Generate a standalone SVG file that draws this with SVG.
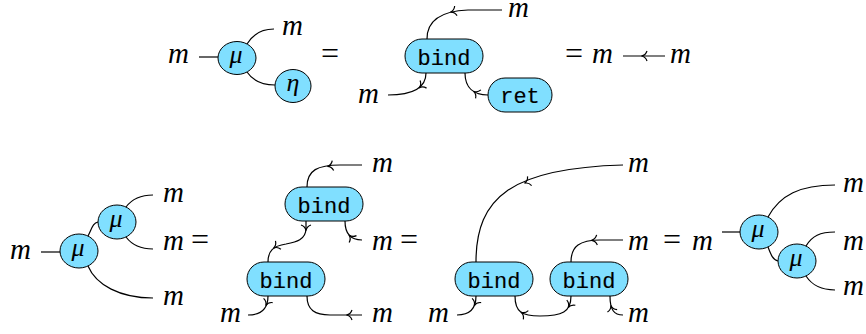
<svg xmlns="http://www.w3.org/2000/svg" xmlns:xlink="http://www.w3.org/1999/xlink" width="866" height="334" viewBox="0 0 866 334">
<style>
.w{fill:none;stroke:#000;stroke-width:1.2}
.n{fill:#80dfff;stroke:#000;stroke-width:1}
.m{font-family:"Liberation Serif",serif;font-style:italic;font-size:29px;fill:#000}
.g{font-family:"Liberation Serif",serif;font-style:italic;font-size:26px;fill:#000;text-anchor:middle}
.eq{font-family:"Liberation Serif",serif;font-size:32px;fill:#000}
.t{font-family:"Liberation Mono",monospace;font-size:22px;fill:#000;text-anchor:middle;stroke:#000;stroke-width:0.15}
</style>
<defs>
<path id="ah" d="M-5,-5 C-4,-2 -1.8,-0.4 0.6,0 C-1.8,0.4 -4,2 -5,5" fill="none" stroke="#000" stroke-width="1.2"/>
</defs>
<g id="connectors">
<!-- top left -->
<path class="w" d="M199,57 H218"/>
<path class="w" d="M247,44 C253,34 262,29 274,29"/>
<path class="w" d="M247,72 C253,81 262,85 275,85"/>
<!-- top middle -->
<path class="w" d="M427,39 C427,20 442,11 468,10 H502"/>
<use xlink:href="#ah" transform="translate(451,12) rotate(166)"/>
<path class="w" d="M426,73 C426,88 412,95 388,95"/>
<use xlink:href="#ah" transform="translate(419.5,87.5) rotate(140)"/>
<path class="w" d="M465,73 C465,88 474,95 488,95"/>
<use xlink:href="#ah" transform="translate(474,91.5) rotate(212)"/>
<!-- top right -->
<path class="w" d="M623,56 H665"/>
<use xlink:href="#ah" transform="translate(642,56) rotate(180)"/>
<!-- bottom left -->
<path class="w" d="M41,252 H60"/>
<path class="w" d="M88,236 C92,228 93,223 98,222"/>
<path class="w" d="M126,207 C132,199 140,195 153,195"/>
<path class="w" d="M126,237 C132,245 140,249 153,249"/>
<path class="w" d="M88,266 C96,285 120,298 153,298"/>
<!-- bottom second -->
<path class="w" d="M307,187 C307,170 318,165 340,165 H362"/>
<use xlink:href="#ah" transform="translate(328,166.3) rotate(172)"/>
<path class="w" d="M345,221 C345,234 351,240 362,240"/>
<use xlink:href="#ah" transform="translate(349.4,235.4) rotate(227)"/>
<path class="w" d="M306,221 L306,228 C306,240 296,242 286,244 C273,246 268,251 268,262"/>
<use xlink:href="#ah" transform="translate(306,230) rotate(90)"/>
<use xlink:href="#ah" transform="translate(274,247.8) rotate(147)"/>
<path class="w" d="M268,296 C268,309 261,315 248,315"/>
<use xlink:href="#ah" transform="translate(266,305) rotate(115)"/>
<path class="w" d="M307,296 C307,310 315,315 330,315 H362"/>
<use xlink:href="#ah" transform="translate(347,315) rotate(180)"/>
<!-- bottom third -->
<path class="w" d="M476,262 C476,197 512,168 623,165"/>
<use xlink:href="#ah" transform="translate(525,183) rotate(156)"/>
<path class="w" d="M571,262 C571,246 580,240 600,240 H623"/>
<use xlink:href="#ah" transform="translate(592,240.3) rotate(176)"/>
<path class="w" d="M476,296 C476,309 469,315 457,315"/>
<use xlink:href="#ah" transform="translate(474.5,305) rotate(115)"/>
<path class="w" d="M515,296 C515,312 522,316 540,316 C562,316 571,312 571,296"/>
<use xlink:href="#ah" transform="translate(521.5,312.5) rotate(210)"/>
<use xlink:href="#ah" transform="translate(568.5,307) rotate(121)"/>
<path class="w" d="M610,296 C610,310 614,315 623,315"/>
<use xlink:href="#ah" transform="translate(611,306) rotate(255)"/>
<!-- bottom right -->
<path class="w" d="M722,232 H740"/>
<path class="w" d="M768,217 C780,195 800,185 835,185"/>
<path class="w" d="M768,247 C771,255 773,260 778,261"/>
<path class="w" d="M806,246 C812,236 820,232 835,232"/>
<path class="w" d="M806,276 C812,285 820,290 835,290"/>
</g>
<!-- top left nodes -->
<g id="mu1"><ellipse class="n" cx="237" cy="58" rx="19" ry="16.5"/><text class="g" x="236" y="63">μ</text></g>
<g id="eta1"><ellipse class="n" cx="293" cy="86" rx="18" ry="16.5"/><text class="g" x="293" y="91">η</text></g>
<!-- top middle -->
<g id="bind1"><rect class="n" x="405" y="39" width="78" height="34" rx="17"/><text class="t" x="444" y="64.5">bind</text></g>
<g id="ret1"><rect class="n" x="488" y="78" width="64" height="34" rx="17"/><text class="t" x="520" y="103">ret</text></g>
<!-- bottom left -->
<g id="mu2"><ellipse class="n" cx="79" cy="251" rx="19" ry="17"/><text class="g" x="78" y="256">μ</text></g>
<g id="mu3"><ellipse class="n" cx="117" cy="222" rx="19" ry="17"/><text class="g" x="116" y="227">μ</text></g>
<!-- bottom second -->
<g id="bind2"><rect class="n" x="285" y="187" width="78" height="34" rx="17"/><text class="t" x="324" y="212.5">bind</text></g>
<g id="bind3"><rect class="n" x="247" y="262" width="78" height="34" rx="17"/><text class="t" x="286" y="287.5">bind</text></g>
<!-- bottom third -->
<g id="bind4"><rect class="n" x="455" y="262" width="78" height="34" rx="17"/><text class="t" x="494" y="287.5">bind</text></g>
<g id="bind5"><rect class="n" x="550" y="262" width="78" height="34" rx="17"/><text class="t" x="589" y="287.5">bind</text></g>
<!-- bottom right -->
<g id="mu4"><ellipse class="n" cx="759" cy="232" rx="19" ry="17"/><text class="g" x="758" y="237">μ</text></g>
<g id="mu5"><ellipse class="n" cx="797" cy="261" rx="19" ry="17"/><text class="g" x="796" y="266">μ</text></g>
<g id="labels">
<text class="m" x="168" y="63">m</text>
<text class="m" x="282" y="35">m</text>
<text class="eq" x="321" y="64">=</text>
<text class="m" x="508" y="17">m</text>
<text class="m" x="358" y="103">m</text>
<text class="eq" x="565" y="64">=</text>
<text class="m" x="592" y="63">m</text>
<text class="m" x="670" y="63">m</text>
<text class="m" x="10" y="259">m</text>
<text class="m" x="163" y="202">m</text>
<text class="m" x="163" y="250">m</text>
<text class="eq" x="191" y="250">=</text>
<text class="m" x="163" y="305">m</text>
<text class="m" x="372" y="172">m</text>
<text class="m" x="372" y="250">m</text>
<text class="eq" x="400" y="250">=</text>
<text class="m" x="220" y="322">m</text>
<text class="m" x="372" y="322">m</text>
<text class="m" x="628" y="172">m</text>
<text class="m" x="628" y="250">m</text>
<text class="eq" x="663" y="250">=</text>
<text class="m" x="428" y="322">m</text>
<text class="m" x="628" y="322">m</text>
<text class="m" x="692" y="250">m</text>
<text class="m" x="843" y="192">m</text>
<text class="m" x="843" y="250">m</text>
<text class="m" x="843" y="295">m</text>
</g>
</svg>
